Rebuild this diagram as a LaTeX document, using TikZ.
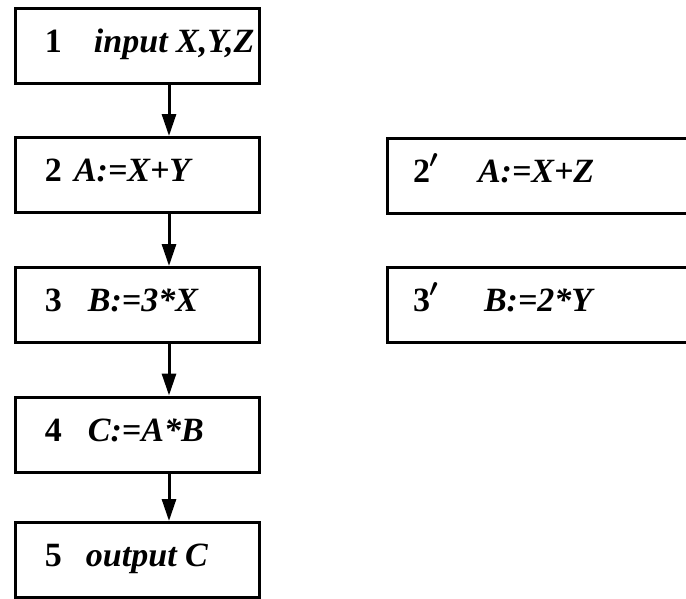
\documentclass[tikz,border=0pt]{standalone}
\usepackage{fontspec}
\setmainfont{Liberation Serif}
\usetikzlibrary{arrows.meta}

\begin{document}
\begin{tikzpicture}[x=1pt, y=-1pt]
\tikzstyle{stepbox}=[draw, line width=3pt, minimum width=244pt, minimum height=75pt, inner sep=0pt, text height=23pt, text depth=10pt, font=\fontsize{34}{38}\selectfont\bfseries\itshape]
\tikzstyle{sidebox}=[stepbox, minimum width=333pt]
\tikzstyle{flow}=[line width=3pt, -{Triangle[length=22pt, width=14pt]}]
\useasboundingbox (0,0) rectangle (686,598);
\clip (0,0) rectangle (686,598);
% main sequence
\node[stepbox] (s1) at (137,45.5) {\makebox[184pt][l]{{\upshape 1}\hspace{32pt}input X,Y,Z}};
\node[stepbox] (s2) at (137,175) {\makebox[184pt][l]{{\upshape 2}\hspace{12pt}A:=X+Y}};
\node[stepbox] (s3) at (137,305) {\makebox[184pt][l]{{\upshape 3}\hspace{26pt}B:=3*X}};
\node[stepbox] (s4) at (137,434.5) {\makebox[184pt][l]{{\upshape 4}\hspace{26pt}C:=A*B}};
\node[stepbox] (s5) at (137,560) {\makebox[184pt][l]{{\upshape 5}\hspace{24pt}output C}};
% alternatives
\node[sidebox] (s2p) at (553.5,176) {\makebox[281pt][l]{{\upshape 2}\rlap{\kern-1pt\raisebox{15pt}{\boldmath$\prime$}}\hspace{48pt}A:=X+Z}};
\node[sidebox] (s3p) at (553.5,305) {\makebox[281pt][l]{{\upshape 3}\rlap{\kern-1pt\raisebox{15pt}{\boldmath$\prime$}}\hspace{54pt}B:=2*Y}};
\draw[flow] ([xshift=32pt]s1.south) -- ([xshift=32pt]s2.north);
\draw[flow] ([xshift=32pt]s2.south) -- ([xshift=32pt]s3.north);
\draw[flow] ([xshift=32pt]s3.south) -- ([xshift=32pt]s4.north);
\draw[flow] ([xshift=32pt]s4.south) -- ([xshift=32pt]s5.north);
\end{tikzpicture}
\end{document}
